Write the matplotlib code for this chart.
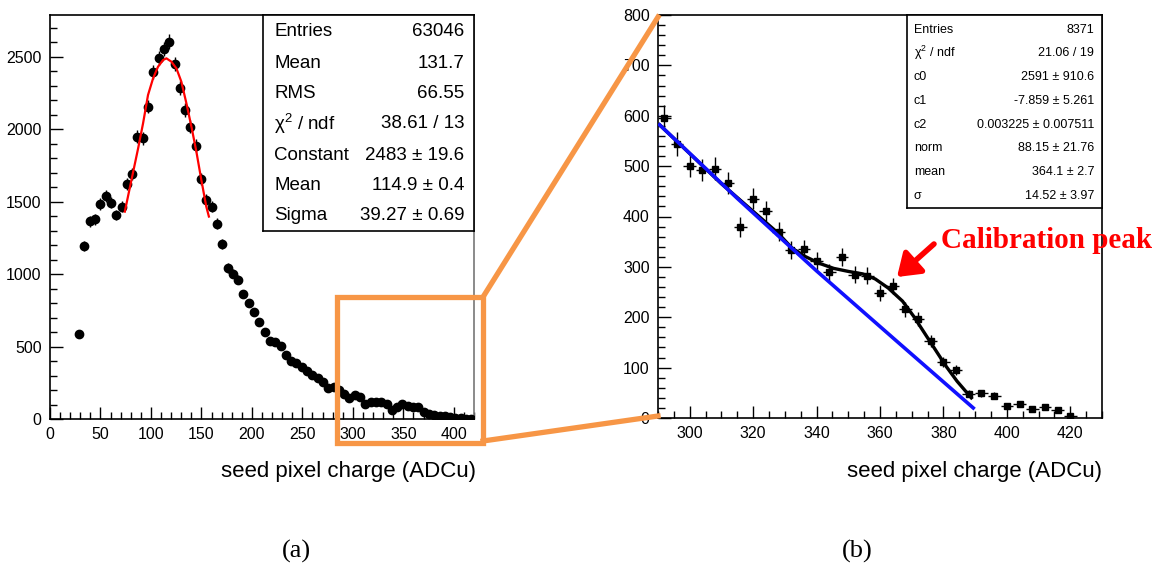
import numpy as np
import matplotlib
matplotlib.use("Agg")
import matplotlib.pyplot as plt
from matplotlib.patches import Rectangle, FancyArrowPatch
from matplotlib.lines import Line2D
from matplotlib.ticker import MultipleLocator

plt.rcParams["font.family"] = ["Liberation Sans", "DejaVu Sans"]
plt.rcParams["mathtext.fontset"] = "custom"
plt.rcParams["mathtext.rm"] = "Liberation Sans"
plt.rcParams["mathtext.it"] = "Liberation Sans:italic"

# ── (a) full spectrum, 80 bins of 5.25 ADCu, first filled bin is #5 ──────────
BIN_W_A = 5.25
FIRST_BIN_A = 5
counts_a = [
    590, 1197, 1363, 1379, 1484, 1540, 1494, 1408, 1466, 1620,
    1689, 1949, 1937, 2155, 2392, 2493, 2553, 2604, 2450, 2286,
    2133, 2018, 1887, 1655, 1512, 1466, 1347, 1206, 1041, 1002,
    960, 864, 800, 735, 669, 600, 538, 528, 501, 439,
    402, 386, 358, 333, 305, 280, 253, 214, 218, 202,
    174, 145, 168, 149, 105, 115, 117, 117, 105, 59,
    83, 105, 87, 80, 83, 46, 37, 30, 18, 18,
    14, 7, 7, 3, 3,
]
# gaussian fit curve (red)
gaus_x = [74.1, 80.7, 87.3, 92.2, 97.1, 102.1, 107.0, 112.0, 115.3, 120.2,
          125.2, 130.1, 135.1, 140.1, 145.0, 149.9, 154.8, 157.4]
gaus_y = [1431, 1650, 1868, 2041, 2236, 2351, 2431, 2477, 2489, 2466,
          2420, 2328, 2179, 2017, 1845, 1650, 1466, 1397]
stats_a = [
    ("Entries", "63046"),
    ("Mean", "131.7"),
    ("RMS", "66.55"),
    ("\u03c7$^{2}$ / ndf", "38.61 / 13"),
    ("Constant", "2483 \u00b1 19.6"),
    ("Mean", "114.9 \u00b1 0.4"),
    ("Sigma", "39.27 \u00b1 0.69"),
]

# ── (b) zoom on the tail, 4 ADCu bins ─────────────────────────────────────────
x_b = [292, 296, 300, 304, 308, 312, 316, 320, 324, 328, 332, 336, 340,
       344, 348, 352, 356, 360, 364, 368, 372, 376, 380, 384, 388, 392,
       396, 400, 404, 408, 412, 416, 420]
counts_b = [596, 544, 501, 492, 495, 467, 379, 435, 411, 370, 333, 335, 311,
            289, 319, 284, 282, 248, 262, 216, 197, 153, 111, 95, 48, 49,
            44, 23, 28, 18, 22, 15, 3]
# background (pol2, blue) and background + gaussian (black)
bkg_x = [290.5, 315, 340, 365, 389.4]
bkg_y = [582, 436, 292, 154, 20]
tot_x = [290.5, 310, 327.7, 332.3, 336.3, 340.9, 345.4, 350.0, 354.6, 358.5,
         362.6, 367.1, 370.6, 374.0, 377.4, 380.8, 384.3, 388.8]
tot_y = [582, 465, 368, 337, 321, 307, 297, 291, 286, 276,
         258, 232, 202, 169, 136, 103, 73, 40]
stats_b = [
    ("Entries", "8371"),
    ("\u03c7$^{2}$ / ndf", "21.06 / 19"),
    ("c0", "2591 \u00b1 910.6"),
    ("c1", "-7.859 \u00b1 5.261"),
    ("c2", "0.003225 \u00b1 0.007511"),
    ("norm", "88.15 \u00b1 21.76"),
    ("mean", "364.1 \u00b1 2.7"),
    ("\u03c3", "14.52 \u00b1 3.97"),
]

ORANGE = "#F79646"
W, H = 1159, 567


def fx(x):
    return x / W


def fy(y):
    return 1 - y / H


def box(x0, y0, x1, y1):
    return [fx(x0), fy(y1), (x1 - x0) / W, (y1 - y0) / H]


fig = plt.figure(figsize=(W / 100, H / 100), dpi=100)


def style_root(ax):
    ax.tick_params(axis="both", which="both", direction="in", labelsize=11.5,
                   top=False, right=False, pad=6, width=1)
    ax.tick_params(which="major", length=9)
    ax.tick_params(which="minor", length=5)
    for s in ax.spines.values():
        s.set_linewidth(1.2)


# ── left panel ────────────────────────────────────────────────────────────────
axa = fig.add_axes(box(50, 15, 474, 419))
xa = (np.arange(len(counts_a)) + FIRST_BIN_A + 0.5) * BIN_W_A
ya = np.array(counts_a, dtype=float)
axa.errorbar(xa, ya, yerr=np.sqrt(ya), fmt="o", color="black", ms=6,
             elinewidth=1, capsize=0, zorder=3)
axa.plot(gaus_x, gaus_y, color="red", lw=1.6, zorder=4)
axa.set_xlim(0, 420)
axa.set_ylim(0, 2788)
axa.xaxis.set_major_locator(MultipleLocator(50))
axa.xaxis.set_minor_locator(MultipleLocator(10))
axa.yaxis.set_major_locator(MultipleLocator(500))
axa.yaxis.set_minor_locator(MultipleLocator(100))
style_root(axa)
axa.spines["right"].set_color("#777777")
axa.set_xlabel("seed pixel charge (ADCu)", fontsize=16)
axa.xaxis.set_label_coords(1.005, -(472 - 419) / 404)
axa.xaxis.label.set_ha("right")
axa.xaxis.label.set_va("center")

# ── right panel ───────────────────────────────────────────────────────────────
axb = fig.add_axes(box(658, 15, 1102, 418))
yb = np.array(counts_b, dtype=float)
axb.errorbar(x_b, yb, yerr=np.sqrt(yb), xerr=2, fmt="s", color="black",
             ms=4, elinewidth=1, capsize=0, zorder=3)
axb.plot(tot_x, tot_y, color="black", lw=2.4, zorder=4)
axb.plot(bkg_x, bkg_y, color="#1010ff", lw=2.6, zorder=5)
axb.set_xlim(290, 430)
axb.set_ylim(0, 800)
axb.xaxis.set_major_locator(MultipleLocator(20))
axb.xaxis.set_minor_locator(MultipleLocator(5))
axb.yaxis.set_major_locator(MultipleLocator(100))
axb.yaxis.set_minor_locator(MultipleLocator(20))
style_root(axb)
axb.set_xlabel("seed pixel charge (ADCu)", fontsize=16)
axb.xaxis.set_label_coords(1.0, -(472 - 418) / 403)
axb.xaxis.label.set_ha("right")
axb.xaxis.label.set_va("center")

# ── statistics boxes ──────────────────────────────────────────────────────────
def stat_box(rect, rows, row_y, xl, xr, fs):
    sb = fig.add_axes(box(*rect))
    sb.set_xticks([])
    sb.set_yticks([])
    sb.set_xlim(rect[0], rect[2])
    sb.set_ylim(rect[3], rect[1])
    for s in sb.spines.values():
        s.set_linewidth(1.2)
    for (name, val), yy in zip(rows, row_y):
        sb.text(xl, yy, name, fontsize=fs, ha="left", va="center")
        sb.text(xr, yy, val, fontsize=fs, ha="right", va="center")
    return sb


stat_box((263, 15, 474, 231), stats_a,
         [32, 63, 93, 124, 155, 185, 215], 274, 464, 13.5)
stat_box((907, 15, 1102, 208), stats_b,
         [30, 53, 77, 101, 125, 148, 172, 196], 914, 1094, 9)

# ── annotation ────────────────────────────────────────────────────────────────
fig.text(fx(941), fy(240), "Calibration peak", color="red", fontsize=21,
         fontweight="bold", family="Liberation Serif", ha="left", va="center")
fig.add_artist(FancyArrowPatch((fx(934), fy(244)), (fx(897), fy(277)),
                               transform=fig.transFigure, color="red",
                               arrowstyle="-|>,head_length=13,head_width=9",
                               lw=4, mutation_scale=1, shrinkA=0, shrinkB=0))

# ── orange zoom frame and connectors ──────────────────────────────────────────
fig.add_artist(Rectangle((fx(337), fy(443)), (483 - 337) / W, (443 - 297) / H,
                         transform=fig.transFigure, fill=False,
                         edgecolor=ORANGE, lw=3.8, zorder=10))
fig.add_artist(Line2D([fx(483), fx(658)], [fy(297), fy(17)],
                      transform=fig.transFigure, color=ORANGE, lw=3.8, zorder=10))
fig.add_artist(Line2D([fx(483), fx(658)], [fy(441), fy(416)],
                      transform=fig.transFigure, color=ORANGE, lw=3.8, zorder=10))

fig.text(fx(296), fy(551), "(a)", fontsize=19, family="Liberation Serif",
         ha="center", va="center")
fig.text(fx(857), fy(551), "(b)", fontsize=19, family="Liberation Serif",
         ha="center", va="center")

fig.savefig("out.png", dpi=100)
